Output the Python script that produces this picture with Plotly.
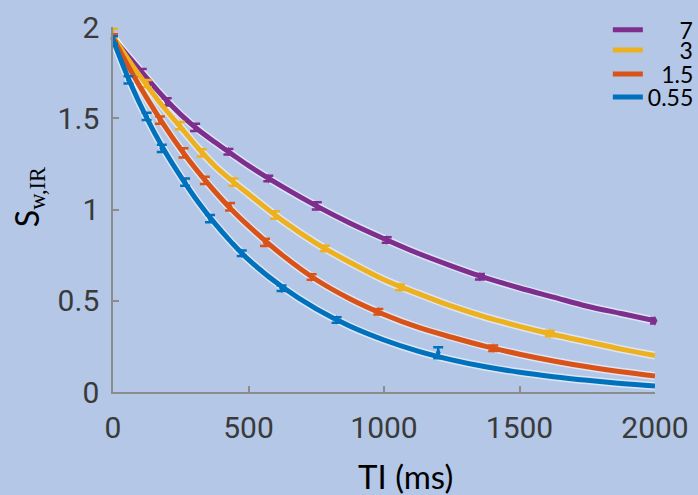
import plotly.graph_objects as go

# ---- data ----
series_names = ["7", "3", "1.5", "0.55"]
# right-aligning pads (figure / punctuation spaces) for the legend labels
legend_pads = ["\u2007\u2008\u2007", "\u2007\u2008\u2007", "\u2007", ""]
series_colors = ["#7E2F8E", "#EDB120", "#D95319", "#0072BD"]

# fitted curves
fit_ti = [0, 62, 125, 187, 250, 312, 375, 437, 500, 625, 750, 875, 1000, 1125, 1250,
          1375, 1500, 1625, 1750, 1875, 2000]
fit_7 = [1.94, 1.83, 1.72, 1.615, 1.52, 1.44, 1.37, 1.305, 1.24, 1.125, 1.02, 0.925, 0.84,
         0.76, 0.69, 0.625, 0.57, 0.52, 0.47, 0.43, 0.39]
fit_3 = [1.95, 1.81, 1.68, 1.56, 1.45, 1.34, 1.24, 1.16, 1.085, 0.94, 0.815, 0.71, 0.615,
         0.54, 0.47, 0.41, 0.36, 0.315, 0.275, 0.235, 0.20]
fit_15 = [1.94, 1.77, 1.61, 1.465, 1.33, 1.21, 1.10, 1.0, 0.91, 0.75, 0.615, 0.51, 0.425,
          0.355, 0.30, 0.25, 0.207, 0.17, 0.138, 0.111, 0.088]
fit_055 = [1.93, 1.70, 1.50, 1.33, 1.18, 1.045, 0.925, 0.82, 0.725, 0.575, 0.455, 0.36,
           0.285, 0.224, 0.176, 0.138, 0.108, 0.084, 0.064, 0.047, 0.033]
fits = [fit_7, fit_3, fit_15, fit_055]

# measured points
pts_ti_7 = [0, 106, 198, 303, 426, 573, 752, 1010, 1354, 2000]
pts_7 = [1.94, 1.75, 1.59, 1.45, 1.317, 1.17, 1.02, 0.833, 0.632, 0.39]
err_7 = [0.02, 0.02, 0.02, 0.02, 0.015, 0.015, 0.02, 0.015, 0.015, 0.015]

pts_ti_3 = [0, 125, 247, 327, 444, 598, 782, 1059, 1612]
pts_3 = [1.96, 1.69, 1.46, 1.31, 1.15, 0.97, 0.787, 0.574, 0.32]
err_3 = [0.03, 0.02, 0.02, 0.02, 0.02, 0.02, 0.015, 0.015, 0.015]

pts_ti_15 = [0, 173, 260, 339, 432, 561, 733, 979, 1403]
pts_15 = [1.94, 1.49, 1.31, 1.16, 1.015, 0.82, 0.63, 0.44, 0.24]
err_15 = [0.02, 0.02, 0.025, 0.02, 0.02, 0.02, 0.015, 0.015, 0.015]

pts_ti_055 = [0, 57, 124, 180, 266, 358, 475, 622, 825, 1200]
pts_055 = [1.93, 1.71, 1.51, 1.335, 1.15, 0.95, 0.76, 0.568, 0.395, 0.215]
err_055 = [0.02, 0.02, 0.02, 0.02, 0.02, 0.02, 0.015, 0.015, 0.015, 0.03]

pts_ti = [pts_ti_7, pts_ti_3, pts_ti_15, pts_ti_055]
pts = [pts_7, pts_3, pts_15, pts_055]
errs = [err_7, err_3, err_15, err_055]

x_ticks = [0, 500, 1000, 1500, 2000]
y_ticks = [0, 0.5, 1, 1.5, 2]
y_tick_labels = ["0", "0.5", "1", "1.5", "2"]
x_title = "TI (ms)"
y_title = "S<sub style='font-family:Liberation Serif'>w,IR</sub>"

BG = "#B4C7E7"
TICK_FONT = dict(family="Roboto", size=30, color="#3a3a3a")
LEGEND_FONT = dict(family="Lato", size=23, color="#000000")
TITLE_FONT = dict(family="Lato", size=33, color="#000000")

fig = go.Figure()

# light halos under curves
for i in range(4):
    fig.add_trace(go.Scatter(
        x=fit_ti, y=fits[i], mode="lines",
        line=dict(color="rgba(255,255,255,0.55)", width=8, shape="spline"),
        showlegend=False, hoverinfo="skip", cliponaxis=False))

legend_ids = ["legend", "legend2", "legend3", "legend4"]
for i in range(4):
    fig.add_trace(go.Scatter(
        x=fit_ti, y=fits[i], mode="lines", name=legend_pads[i] + series_names[i],
        line=dict(color=series_colors[i], width=5, shape="spline"),
        legend=legend_ids[i], cliponaxis=False))
    fig.add_trace(go.Scatter(
        x=pts_ti[i], y=pts[i], mode="markers", showlegend=False,
        marker=dict(color=series_colors[i], size=7, symbol="diamond-tall"),
        error_y=dict(type="data", array=errs[i], color=series_colors[i], thickness=2.5, width=5),
        cliponaxis=False))

# one single-entry legend per series, stacked tightly like the reference
legend_y = [0.992, 0.937, 0.871, 0.808]
legend_common = dict(x=0.913, xanchor="left", yanchor="middle",
                     bgcolor="rgba(0,0,0,0)", font=LEGEND_FONT, itemwidth=30)
fig.update_layout(
    width=698, height=495,
    paper_bgcolor=BG, plot_bgcolor=BG,
    margin=dict(l=113, r=43, t=27, b=103, autoexpand=False),
    showlegend=True,
    legend=dict(y=legend_y[0], **legend_common),
    legend2=dict(y=legend_y[1], **legend_common),
    legend3=dict(y=legend_y[2], **legend_common),
    legend4=dict(y=legend_y[3], **legend_common),
    font=dict(family="Roboto"),
    annotations=[
        dict(text=x_title, xref="paper", yref="paper", x=0.539, y=-0.23,
             xanchor="center", yanchor="middle", showarrow=False, font=TITLE_FONT),
        dict(text=y_title, xref="paper", yref="paper", x=-0.156, y=0.535,
             xanchor="center", yanchor="middle", showarrow=False, textangle=-90,
             font=dict(family="Lato", size=32, color="#000000")),
    ],
)
fig.update_xaxes(
    range=[0, 2000], tickvals=x_ticks, ticktext=[str(v) for v in x_ticks],
    showgrid=False, zeroline=False, showline=True, linecolor="#8c8c8c", linewidth=1.5,
    ticks="inside", ticklen=6, tickcolor="#8c8c8c", tickwidth=1.5,
    tickfont=TICK_FONT, ticklabelstandoff=8, automargin=False,
)
fig.update_yaxes(
    range=[0, 2], tickvals=y_ticks, ticktext=y_tick_labels,
    showgrid=False, zeroline=False, showline=True, linecolor="#8c8c8c", linewidth=1.5,
    ticks="inside", ticklen=6, tickcolor="#8c8c8c", tickwidth=1.5,
    tickfont=TICK_FONT, ticklabelstandoff=6, automargin=False,
)

fig.write_html("out.html", config={"displayModeBar": False},
               post_script="document.body.style.margin='0px';")
